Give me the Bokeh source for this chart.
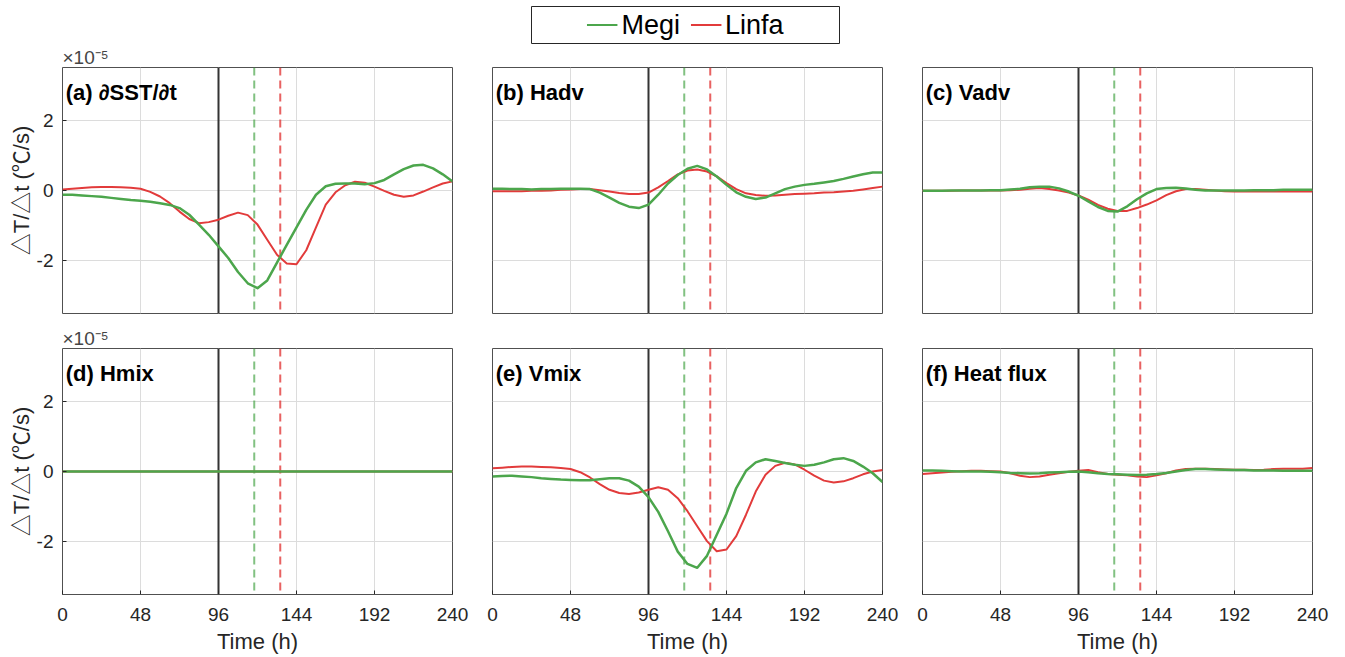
from bokeh.plotting import figure
from bokeh.models import Label, Span, Legend, LegendItem, FixedTicker, Range1d, Title
from bokeh.layouts import column, row
from bokeh.embed import file_html
from bokeh.resources import INLINE

# ---------------- data (values in units of 1e-5 degC/s) ----------------
time_h = list(range(0, 241, 6))
x_ticks = [0, 48, 96, 144, 192, 240]
y_ticks = [-2, 0, 2]
storm_names = ["Megi", "Linfa"]
ref_time = 96
megi_time = 118
linfa_time = 134
panel_titles = ["(a) \u2202SST/\u2202t", "(b) Hadv", "(c) Vadv",
                "(d) Hmix", "(e) Vmix", "(f) Heat flux"]

sst_megi = [-0.12, -0.12, -0.14, -0.16, -0.18, -0.21, -0.24, -0.27, -0.29, -0.32,
            -0.36, -0.41, -0.5, -0.69, -0.97, -1.26, -1.59, -1.92, -2.32, -2.64,
            -2.78, -2.56, -2.05, -1.55, -1.05, -0.55, -0.12, 0.12, 0.19, 0.2,
            0.2, 0.18, 0.21, 0.3, 0.46, 0.61, 0.71, 0.73, 0.63, 0.46,
            0.26]
sst_linfa = [0.03, 0.05, 0.07, 0.09, 0.1, 0.1, 0.09, 0.08, 0.05, -0.04,
             -0.17, -0.36, -0.6, -0.81, -0.93, -0.9, -0.83, -0.72, -0.63, -0.7,
             -0.97, -1.4, -1.83, -2.08, -2.1, -1.7, -1.05, -0.4, -0.05, 0.15,
             0.25, 0.22, 0.11, -0.01, -0.12, -0.18, -0.14, -0.03, 0.09, 0.2,
             0.26]
hadv_megi = [0.05, 0.05, 0.04, 0.04, 0.03, 0.04, 0.04, 0.05, 0.05, 0.05,
             0.04, -0.06, -0.2, -0.35, -0.46, -0.5, -0.4, -0.12, 0.2, 0.44,
             0.62, 0.7, 0.6, 0.4, 0.16, -0.05, -0.18, -0.24, -0.2, -0.08,
             0.04, 0.11, 0.16, 0.19, 0.23, 0.27, 0.33, 0.4, 0.46, 0.51,
             0.51]
hadv_linfa = [-0.02, -0.02, -0.02, -0.02, -0.01, -0.01, 0.0, 0.02, 0.03, 0.04,
              0.04, 0.01, -0.03, -0.07, -0.1, -0.1, -0.06, 0.09, 0.27, 0.46,
              0.57, 0.6, 0.54, 0.4, 0.21, 0.04, -0.08, -0.13, -0.15, -0.14,
              -0.12, -0.1, -0.09, -0.08, -0.06, -0.05, -0.03, -0.01, 0.03, 0.07,
              0.11]
vadv_megi = [-0.01, -0.01, -0.01, 0.0, 0.0, 0.0, 0.0, 0.01, 0.01, 0.03,
             0.05, 0.09, 0.11, 0.11, 0.06, -0.03, -0.15, -0.31, -0.47, -0.58,
             -0.6, -0.45, -0.25, -0.08, 0.04, 0.07, 0.08, 0.06, 0.02, 0.0,
             0.0, 0.0, 0.0, 0.0, 0.01, 0.01, 0.01, 0.02, 0.02, 0.02,
             0.02]
vadv_linfa = [-0.01, -0.01, -0.01, -0.01, 0.0, 0.0, 0.0, 0.0, 0.0, 0.01,
              0.02, 0.05, 0.07, 0.04, 0.0, -0.06, -0.14, -0.26, -0.41, -0.52,
              -0.58, -0.58, -0.5, -0.4, -0.28, -0.13, -0.02, 0.04, 0.04, 0.02,
              0.0, -0.02, -0.03, -0.03, -0.03, -0.03, -0.03, -0.03, -0.03, -0.03,
              -0.03]
hmix_megi = [0.0] * 41
hmix_linfa = [0.0] * 41
vmix_megi = [-0.14, -0.13, -0.12, -0.14, -0.16, -0.19, -0.21, -0.23, -0.24, -0.25,
             -0.25, -0.22, -0.19, -0.19, -0.26, -0.43, -0.73, -1.15, -1.7, -2.28,
             -2.63, -2.74, -2.4, -1.8, -1.2, -0.47, 0.02, 0.26, 0.35, 0.3,
             0.24, 0.19, 0.16, 0.19, 0.26, 0.35, 0.38, 0.3, 0.14, -0.05,
             -0.3]
vmix_linfa = [0.09, 0.11, 0.13, 0.14, 0.14, 0.13, 0.12, 0.1, 0.07, -0.02,
              -0.17, -0.36, -0.52, -0.61, -0.64, -0.6, -0.52, -0.45, -0.52, -0.76,
              -1.13, -1.56, -1.98, -2.27, -2.22, -1.84, -1.23, -0.57, -0.09, 0.16,
              0.25, 0.2, 0.05, -0.12, -0.26, -0.31, -0.28, -0.19, -0.08, 0.0,
              0.04]
flux_megi = [0.03, 0.03, 0.02, 0.01, 0.0, 0.0, 0.0, -0.01, -0.02, -0.04,
             -0.05, -0.06, -0.05, -0.03, -0.02, -0.01, 0.0, -0.02, -0.05, -0.07,
             -0.08, -0.09, -0.1, -0.09, -0.07, -0.04, 0.0, 0.04, 0.07, 0.07,
             0.06, 0.05, 0.04, 0.04, 0.03, 0.03, 0.03, 0.02, 0.02, 0.02,
             0.02]
flux_linfa = [-0.07, -0.05, -0.03, -0.01, 0.01, 0.02, 0.02, 0.01, 0.0, -0.05,
              -0.12, -0.16, -0.14, -0.09, -0.05, -0.01, 0.02, 0.04, -0.02, -0.07,
              -0.09, -0.11, -0.14, -0.16, -0.11, -0.05, 0.03, 0.07, 0.08, 0.08,
              0.07, 0.06, 0.05, 0.05, 0.04, 0.05, 0.07, 0.08, 0.08, 0.08,
              0.1]

megi_series = [sst_megi, hadv_megi, vadv_megi, hmix_megi, vmix_megi, flux_megi]
linfa_series = [sst_linfa, hadv_linfa, vadv_linfa, hmix_linfa, vmix_linfa, flux_linfa]

# ---------------- style ----------------
GREEN = "#4CA64C"
RED = "#E23B3B"
AX = "#262626"
FONT = "Liberation Sans"
YLABEL = "\u25B3T/\u25B3t (\u2103/s)"


def make_panel(i):
    col = i % 3
    top_row = i < 3
    p = figure(frame_width=390, frame_height=246,
               x_range=Range1d(0, 240), y_range=Range1d(-3.5, 3.5),
               output_backend="svg", toolbar_location=None,
               min_border_left=62 if col == 0 else 20,
               min_border_right=20,
               min_border_top=22 if top_row else 25,
               min_border_bottom=10 if top_row else 62)
    p.background_fill_color = "white"
    p.border_fill_color = "white"
    p.outline_line_color = "#505050"
    p.outline_line_width = 1

    p.xaxis.ticker = FixedTicker(ticks=x_ticks)
    p.yaxis.ticker = FixedTicker(ticks=y_ticks)
    p.yaxis.major_label_overrides = {-2: "-2", 0: "0", 2: "2"}
    for ax in (p.xaxis[0], p.yaxis[0]):
        ax.axis_line_color = None
        ax.major_tick_in = 4
        ax.major_tick_out = 0
        ax.major_tick_line_color = AX
        ax.minor_tick_line_color = None
        ax.major_label_text_font = FONT
        ax.major_label_text_font_size = "19px"
        ax.major_label_text_color = AX
        ax.axis_label_text_font = FONT
        ax.axis_label_text_font_size = "22px"
        ax.axis_label_text_font_style = "normal"
        ax.axis_label_text_color = AX
    p.xaxis.major_label_standoff = 13
    p.xaxis.axis_label_standoff = 5
    p.yaxis.major_label_standoff = 9
    p.yaxis.axis_label_standoff = 0
    if top_row:
        p.xaxis.visible = False
    else:
        p.xaxis.axis_label = "Time (h)"
    if col == 0:
        p.yaxis.axis_label = YLABEL
        p.yaxis.axis_label_text_font = FONT + ", Noto Sans CJK SC"
        p.add_layout(Title(text="\u00d710\u207b\u2075", align="left",
                           text_font=FONT, text_font_size="19px",
                           text_font_style="normal", text_color="#454545",
                           standoff=0, offset=0), "above")
    else:
        p.yaxis.visible = False

    p.grid.grid_line_color = "#dcdcdc"
    p.grid.grid_line_width = 1

    p.add_layout(Span(location=ref_time, dimension="height", line_color="#333333",
                      line_width=2, level="underlay"))
    p.add_layout(Span(location=megi_time, dimension="height", line_color=GREEN,
                      line_alpha=0.7, line_width=2, line_dash="8 5", level="underlay"))
    p.add_layout(Span(location=linfa_time, dimension="height", line_color=RED,
                      line_alpha=0.8, line_width=2, line_dash="8 5", level="underlay"))

    p.line(time_h, linfa_series[i], line_color=RED, line_width=2, line_join="round")
    p.line(time_h, megi_series[i], line_color=GREEN, line_width=2.5, line_join="round")

    p.add_layout(Label(x=2, y=2.8, text=panel_titles[i], text_font=FONT,
                       text_font_size="22px", text_font_style="bold",
                       text_color="black", text_baseline="middle"))
    return p


panels = [make_panel(i) for i in range(6)]

# ---------------- legend ----------------
leg = figure(frame_width=308, frame_height=37, x_range=Range1d(-1000, -999),
             y_range=Range1d(0, 1), output_backend="svg", toolbar_location=None,
             min_border_left=531, min_border_right=1, min_border_top=6, min_border_bottom=1)
leg.axis.visible = False
leg.grid.visible = False
leg.outline_line_color = AX
leg.outline_line_width = 1
r_megi = leg.line(time_h, sst_megi, line_color=GREEN, line_width=2)
r_linfa = leg.line(time_h, sst_linfa, line_color=RED, line_width=2)
legend = Legend(items=[LegendItem(label=storm_names[0], renderers=[r_megi]),
                       LegendItem(label=storm_names[1], renderers=[r_linfa])],
                location="center", orientation="horizontal",
                border_line_color=None, background_fill_alpha=0,
                padding=0, margin=0, spacing=10, glyph_width=31, glyph_height=20,
                label_standoff=4, label_text_font=FONT, label_text_font_size="27px",
                label_text_color="black")
leg.add_layout(legend, "center")

layout = column(leg, row(*panels[:3]), row(*panels[3:]))

open("out.html", "w").write(file_html(layout, INLINE))
